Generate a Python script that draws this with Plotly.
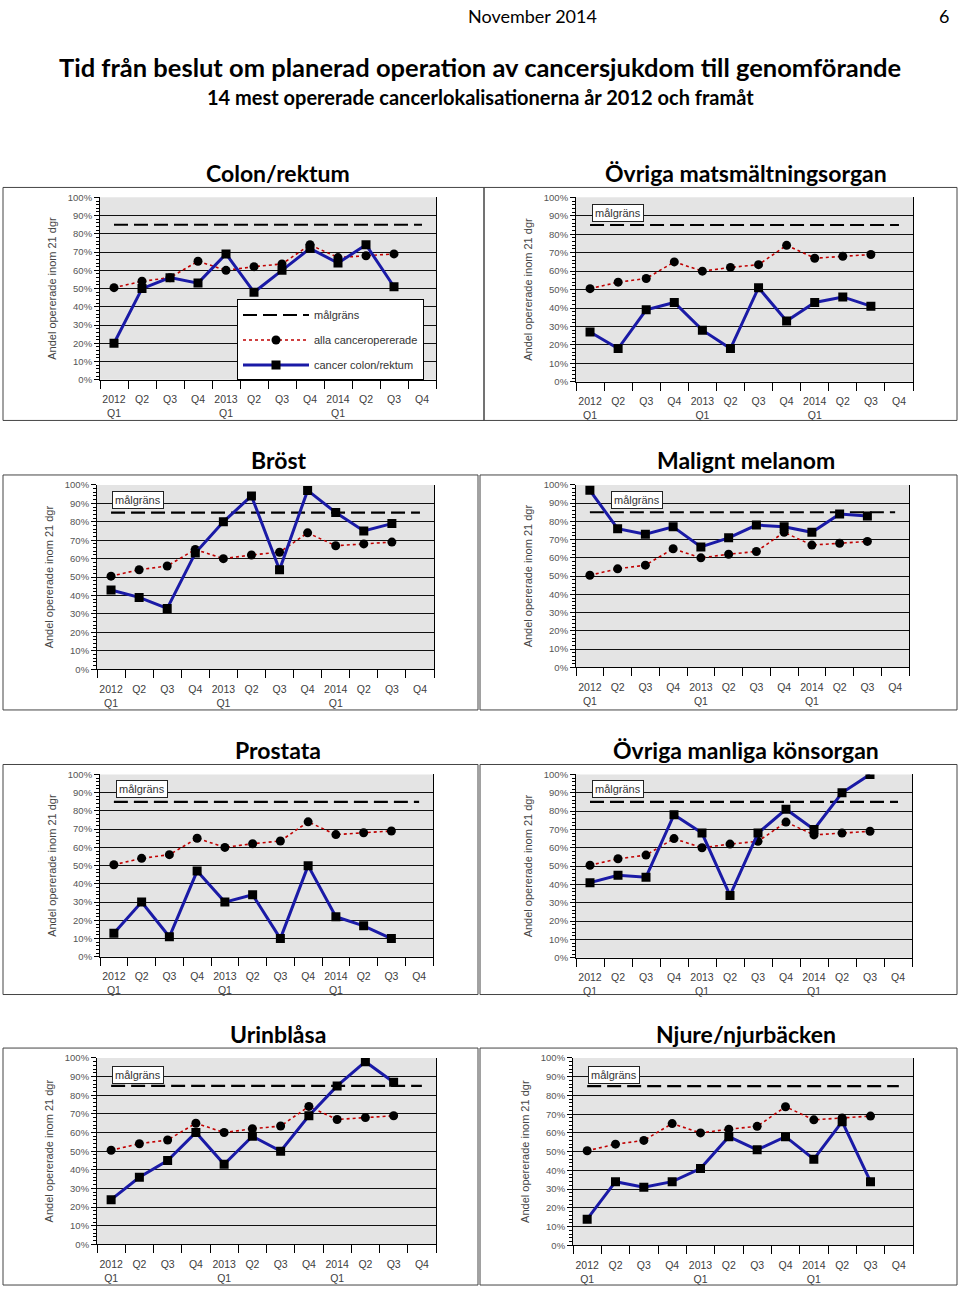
import plotly.graph_objects as go

# ---------------- data ----------------
quarters = ["2012<br>Q1", "Q2", "Q3", "Q4", "2013<br>Q1", "Q2", "Q3", "Q4",
            "2014<br>Q1", "Q2", "Q3", "Q4"]
target = 85  # målgräns, %
alla_canceropererade = [50.5, 54, 56, 65, 60, 62, 63.5, 74, 67, 68, 69]

colon_rektum = [20, 50, 56, 53, 69, 48, 60, 72, 64, 74, 51]
ovriga_matsmaltning = [27, 18, 39, 43, 28, 18, 51, 33, 43, 46, 41]
brost = [43, 39, 33, 63, 80, 94, 54, 97, 85, 75, 79]
malignt_melanom = [97, 76, 73, 77, 66, 71, 78, 77, 74, 84, 83]
prostata = [13, 30, 11, 47, 30, 34, 10, 50, 22, 17, 10]
ovriga_manliga = [41, 45, 44, 78, 68, 34, 68, 81, 70, 90, 100]
urinblasa = [24, 36, 45, 60, 43, 58, 50, 69, 85, 98, 87]
njure = [14, 34, 31, 34, 41, 58, 51, 58, 46, 66, 34]

panel_titles = ["Colon/rektum", "Övriga matsmältningsorgan", "Bröst", "Malignt melanom",
                "Prostata", "Övriga manliga könsorgan", "Urinblåsa", "Njure/njurbäcken"]
panel_series = [colon_rektum, ovriga_matsmaltning, brost, malignt_melanom,
                prostata, ovriga_manliga, urinblasa, njure]

# ---------------- layout geometry (pixels) ----------------
W, H = 960, 1293
# plot areas: (left, right, top, bottom)
plot_px = [
    (100, 436, 193, 377), (576, 913, 193, 379),
    (97, 434, 483, 669), (576, 909, 483, 667),
    (100, 433, 775, 959), (576, 912, 775, 960),
    (97, 436, 1061, 1249), (573, 913, 1061, 1250),
]
# panel frames
frames_px = [
    (3, 484, 183, 418), (484, 957, 183, 418),
    (3, 478, 473, 710), (480, 957, 473, 710),
    (3, 478, 765, 997), (480, 957, 765, 997),
    (3, 478, 1051, 1290), (480, 957, 1051, 1290),
]
title_px = [(278, 168), (746, 168), (278, 458), (746, 458),
            (278, 750), (746, 750), (278, 1037), (746, 1037)]
malgrans_box_px = [None, (592, 200), (112, 489), (611, 489),
                   (116, 781), (592, 781), (112, 1069), (588, 1069)]


def px_x(x):
    return x / W


def px_y(y):
    return 1 - y / H


fig = go.Figure()
TICKFONT = "Liberation Sans"
xs = list(range(len(alla_canceropererade)))

for i, (series, title) in enumerate(zip(panel_series, panel_titles)):
    n = "" if i == 0 else str(i + 1)
    xa, ya = "x" + n, "y" + n
    show = i == 0
    fig.add_trace(go.Scatter(
        x=[0, len(quarters) - 1], y=[target, target], mode="lines",
        line=dict(color="black", width=2.2, dash="14px,6px"),
        name="målgräns", showlegend=show, legendgroup="a",
        xaxis=xa, yaxis=ya, hoverinfo="skip"))
    fig.add_trace(go.Scatter(
        x=xs, y=alla_canceropererade, mode="lines+markers",
        line=dict(color="#c00000", width=1.6, dash="dot"),
        marker=dict(symbol="circle", size=9, color="black"),
        name="alla canceropererade", showlegend=show, legendgroup="b",
        xaxis=xa, yaxis=ya))
    fig.add_trace(go.Scatter(
        x=xs[:len(series)], y=series, mode="lines+markers",
        line=dict(color="#1a1aa6", width=3),
        marker=dict(symbol="square", size=9, color="black"),
        name="cancer colon/rektum", showlegend=show, legendgroup="c",
        xaxis=xa, yaxis=ya))

    l, r, t, b = plot_px[i]
    fig.layout["xaxis" + n] = dict(
        domain=[px_x(l), px_x(r)], anchor=ya, range=[-0.5, 11.5],
        tickmode="array", tickvals=list(range(len(quarters))), ticktext=quarters,
        ticks="", showgrid=False, zeroline=False, ticklabelstandoff=10,
        showline=True, linecolor="black", linewidth=1,
        tickfont=dict(family=TICKFONT, size=10.5, color="#404040"),
        minor=dict(tick0=0.5, dtick=1, ticks="outside", ticklen=8,
                   tickcolor="black", tickwidth=1, showgrid=False),
        fixedrange=True)
    fig.layout["yaxis" + n] = dict(
        domain=[px_y(b), px_y(t)], anchor=xa, range=[0, 100],
        tickmode="linear", tick0=0, dtick=10, ticksuffix="%",
        ticks="outside", ticklen=5, tickcolor="black",
        showgrid=True, gridcolor="#111111", gridwidth=1, zeroline=False,
        showline=True, linecolor="black", linewidth=1, mirror=True,
        tickfont=dict(family=TICKFONT, size=9.5, color="#555555"),
        minor=dict(dtick=2, ticks="outside", ticklen=3, tickcolor="black",
                   showgrid=False),
        title=dict(text="Andel opererade inom 21 dgr", standoff=8,
                   font=dict(family=TICKFONT, size=11, color="#444444")),
        fixedrange=True)

    # plot background
    fig.add_shape(type="rect", xref="paper", yref="paper",
                  x0=px_x(l), x1=px_x(r), y0=px_y(b), y1=px_y(t),
                  fillcolor="#e4e4e4", line=dict(width=0), layer="below")
    # panel frame
    fl, fr, ft, fb = frames_px[i]
    fig.add_shape(type="rect", xref="paper", yref="paper",
                  x0=px_x(fl), x1=px_x(fr), y0=px_y(fb), y1=px_y(ft),
                  line=dict(color="#444444", width=1), fillcolor="rgba(0,0,0,0)")
    # panel title
    tx, ty = title_px[i]
    fig.add_annotation(text=title, xref="paper", yref="paper",
                       x=px_x(tx), y=px_y(ty), xanchor="center", yanchor="middle",
                       showarrow=False,
                       font=dict(family="Lato", size=23, color="black", weight="bold"))
    # målgräns label box
    if malgrans_box_px[i] is not None:
        bx, by = malgrans_box_px[i]
        fig.add_annotation(text="målgräns", xref="paper", yref="paper",
                           x=px_x(bx), y=px_y(by), xanchor="left", yanchor="top",
                           showarrow=False, bgcolor="white", bordercolor="#222222",
                           borderwidth=1, borderpad=2,
                           font=dict(family=TICKFONT, size=11, color="#333333"))

# page header
fig.add_annotation(text="November 2014", xref="paper", yref="paper",
                   x=px_x(532), y=px_y(10), xanchor="center", yanchor="middle",
                   showarrow=False, font=dict(family="Lato", size=18, color="black"))
fig.add_annotation(text="6", xref="paper", yref="paper",
                   x=px_x(944), y=px_y(10), xanchor="center", yanchor="middle",
                   showarrow=False, font=dict(family="Lato", size=18, color="black"))
fig.add_annotation(text="Tid från beslut om planerad operation av cancersjukdom till genomförande",
                   xref="paper", yref="paper", x=0.5, y=px_y(62),
                   xanchor="center", yanchor="middle", showarrow=False,
                   font=dict(family="Lato", size=25.5, color="black", weight="bold"))
fig.add_annotation(text="14 mest opererade cancerlokalisationerna år 2012 och framåt",
                   xref="paper", yref="paper", x=0.5, y=px_y(92),
                   xanchor="center", yanchor="middle", showarrow=False,
                   font=dict(family="Lato", size=20, color="black", weight="bold"))

fig.update_layout(
    width=W, height=H, margin=dict(l=0, r=0, t=0, b=0),
    paper_bgcolor="white", plot_bgcolor="rgba(0,0,0,0)",
    showlegend=True,
    legend=dict(x=px_x(237), y=px_y(296), xanchor="left", yanchor="top",
                bgcolor="white", bordercolor="black", borderwidth=1,
                font=dict(family=TICKFONT, size=11, color="#333333"),
                itemwidth=66, tracegroupgap=6, traceorder="grouped"),
)

fig.write_html("out.html",
               config={"displayModeBar": False},
               post_script="document.body.style.margin='0';"
                           "document.body.style.padding='0';"
                           "document.body.style.overflow='hidden';"
                           "var gd=document.getElementById('{plot_id}');"
                           "gd.style.position='absolute';gd.style.top='0px';"
                           "gd.style.left='0px';")
